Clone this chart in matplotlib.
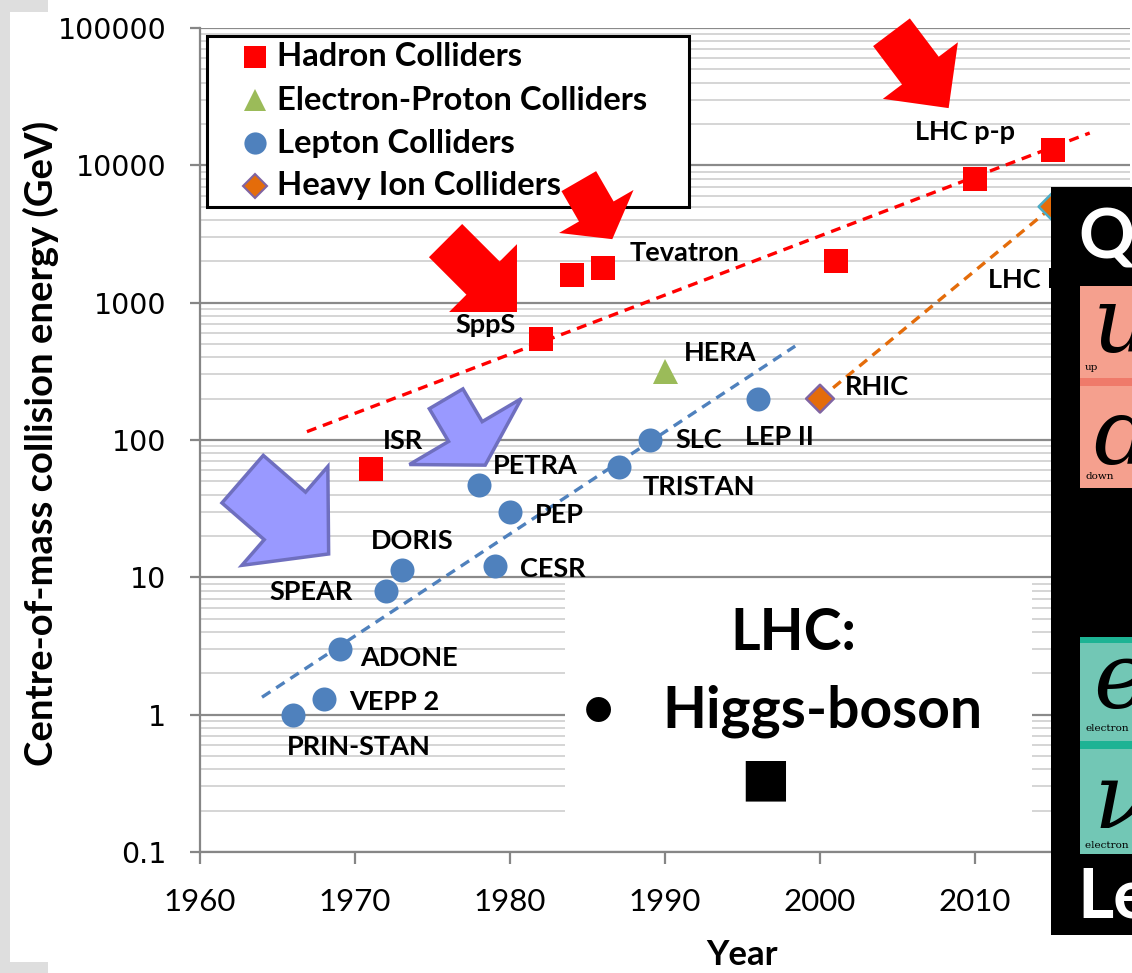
import numpy as np
import matplotlib
matplotlib.use("Agg")
import matplotlib.pyplot as plt
from matplotlib import transforms
from matplotlib.patches import Rectangle, Polygon
from matplotlib.lines import Line2D
from matplotlib.ticker import FixedLocator, LogLocator, NullFormatter, FuncFormatter

plt.rcParams['font.family'] = ['Lato', 'DejaVu Sans']

W, H = 1132, 973

# ---- data ----
hadron_year = [1971, 1982, 1984, 1986, 2001, 2010, 2015]
hadron_energy = [62, 540, 1600, 1800, 2000, 8000, 13000]

ep_year = [1990]
ep_energy = [320]

lepton_year = [1966, 1968, 1969, 1972, 1973, 1978, 1979, 1980, 1987, 1989, 1996]
lepton_energy = [1.0, 1.3, 3.0, 8.0, 11.3, 47, 12, 30, 64, 100, 200]

ion_year = [2000, 2015]
ion_energy = [200, 5000]

# dashed trend lines
hadron_trend_year = [1966.9, 2017.4]
hadron_trend_energy = [115, 17200]
lepton_trend_year = [1964.0, 1998.4]
lepton_trend_energy = [1.34, 483]
ion_trend_year = [2000, 2015]
ion_trend_energy = [200, 5000]

# labels: (name, year, energy)
labels = [
    ("ISR", 1971, 62), ("SppS", 1982, 540), ("Tevatron", 1986, 1800),
    ("LHC p-p", 2010, 8000), ("HERA", 1990, 320), ("RHIC", 2000, 200),
    ("LHC lead-lead", 2015, 5000),
    ("PRIN-STAN", 1966, 1.0), ("VEPP 2", 1968, 1.3), ("ADONE", 1969, 3.0),
    ("SPEAR", 1972, 8.0), ("DORIS", 1973, 11.3), ("PETRA", 1978, 47),
    ("CESR", 1979, 12), ("PEP", 1980, 30), ("TRISTAN", 1987, 64),
    ("SLC", 1989, 100), ("LEP II", 1996, 200),
]
# label offsets in pixels (right, down)
label_offset = {
    "ISR": (12, -28), "SppS": (-86, -14), "Tevatron": (27, -15),
    "LHC p-p": (-60, -47), "HERA": (19, -18), "RHIC": (25, -12),
    "LHC lead-lead": (-65, 73),
    "PRIN-STAN": (-6, 32), "VEPP 2": (25, 3), "ADONE": (21, 9),
    "SPEAR": (-117, 1), "DORIS": (-31, -29), "PETRA": (14, -19),
    "CESR": (25, 3), "PEP": (25, 3), "TRISTAN": (24, 20),
    "SLC": (26, 0), "LEP II": (-13, 38),
}

year_ticks = [1960, 1970, 1980, 1990, 2000, 2010, 2020]
energy_ticks = [0.1, 1, 10, 100, 1000, 10000, 100000]

RED = '#ff0000'
BLUE = '#4f81bd'
GREEN = '#9bbb59'
ORANGE = '#e46c0a'
PURPLE = '#8064a2'

fig = plt.figure(figsize=(W / 100, H / 100), dpi=100)
ax = fig.add_axes([200 / W, 1 - 852 / H, 930 / W, 824 / H])
pix = transforms.Affine2D().scale(1.0 / W, -1.0 / H).translate(0, 1) + fig.transFigure

ax.set_yscale('log')
ax.set_xlim(1960, 2020)
ax.set_ylim(0.1, 100000)

# grid
ax.yaxis.set_major_locator(FixedLocator(energy_ticks))
ax.yaxis.set_minor_locator(LogLocator(base=10, subs=np.arange(2, 10)))
ax.yaxis.set_minor_formatter(NullFormatter())
ax.yaxis.set_major_formatter(FuncFormatter(lambda v, p: ('%g' % v) if v < 1 else '%d' % v))
ax.xaxis.set_major_locator(FixedLocator(year_ticks))
ax.grid(which='major', axis='y', color='#8a8a8a', lw=1.6)
ax.grid(which='minor', axis='y', color='#d2d2d2', lw=1.3)
ax.set_axisbelow(True)
for s in ['top', 'right']:
    ax.spines[s].set_visible(False)
for s in ['left', 'bottom']:
    ax.spines[s].set_color('#868686')
    ax.spines[s].set_linewidth(1.6)
ax.tick_params(axis='x', which='major', direction='out', length=8.6, width=1.6,
               color='#868686', pad=17, labelsize=22.5)
ax.tick_params(axis='y', which='major', direction='out', length=7.2, width=1.6,
               color='#868686', pad=17)
ax.tick_params(axis='y', which='minor', length=0)
for t in ax.get_yticklabels():
    t.set_family('DejaVu Sans')
    t.set_fontsize(20.5)

ax.set_ylabel("Centre-of-mass collision energy (GeV)", fontsize=27.5, fontweight='bold')
ax.yaxis.set_label_coords(-0.152, 0.496)
ax.set_xlabel("Year", fontsize=25, fontweight='bold')
ax.xaxis.set_label_coords(0.583, -0.106)

# trend lines
ax.plot(hadron_trend_year, hadron_trend_energy, color=RED, lw=2.4, ls=(0, (3, 2.1)), zorder=3)
ax.plot(lepton_trend_year, lepton_trend_energy, color=BLUE, lw=2.4, ls=(0, (3, 2.1)), zorder=3)
ax.plot(ion_trend_year, ion_trend_energy, color=ORANGE, lw=2.4, ls=(0, (3, 2.1)), zorder=3)

# points
ax.plot(hadron_year, hadron_energy, 's', color=RED, ms=17.3, mew=0, zorder=4)
ax.plot(ep_year, ep_energy, '^', color=GREEN, ms=18, mew=0, zorder=4)
ax.plot(lepton_year, lepton_energy, 'o', color=BLUE, ms=17.3, mew=0, zorder=4)
ax.scatter(ion_year, ion_energy, marker='D', s=200, c=ORANGE,
           edgecolors=[PURPLE, '#4bacc6'], linewidths=1.8, zorder=4)

for name, yr, en in labels:
    dx, dy = label_offset[name]
    ax.annotate(name, (yr, en), xytext=(dx, -dy), textcoords='offset pixels',
                ha='left', va='center', fontsize=19.5, fontweight='bold', zorder=4)

# legend (drawn by hand)
ax.add_patch(Rectangle((207, 36), 482, 171, transform=pix, facecolor='white',
                       edgecolor='black', lw=2.2, zorder=5, clip_on=False))
legend_items = [
    ("Hadron Colliders", 's', RED, RED, 16),
    ("Electron-Proton Colliders", '^', GREEN, GREEN, 16.5),
    ("Lepton Colliders", 'o', BLUE, BLUE, 16),
    ("Heavy Ion Colliders", 'D', ORANGE, PURPLE, 12.5),
]
for i, (txt, mk, fc, ec, ms) in enumerate(legend_items):
    yy = 57 + 43 * i
    ax.add_line(Line2D([255], [yy], marker=mk, ms=ms, mfc=fc, mec=ec,
                       mew=1.5 if mk == 'D' else 0, transform=pix, zorder=5.5, clip_on=False))
    ax.text(277, yy, txt, transform=pix, ha='left', va='center', fontsize=23.6,
            fontweight='bold', zorder=5.5)


# block arrows
def block_arrow(year, energy, angle, tail_len, tail_w, head_len, head_w, fc, ec=None):
    a = np.deg2rad(angle)
    d = np.array([np.cos(a), -np.sin(a)])   # toward tip (display, y up)
    n = np.array([np.sin(a), np.cos(a)])
    base = -head_len * d
    end = -(head_len + tail_len) * d
    pts = [np.zeros(2), base + head_w / 2 * n, base + tail_w / 2 * n,
           end + tail_w / 2 * n, end - tail_w / 2 * n, base - tail_w / 2 * n,
           base - head_w / 2 * n]
    tr = transforms.Affine2D().scale(fig.dpi / 100.0) + \
        transforms.ScaledTranslation(year, energy, ax.transData)
    ax.add_patch(Polygon(pts, closed=True, transform=tr, facecolor=fc,
                         edgecolor=ec if ec else fc, lw=2.5 if ec else 0,
                         zorder=6, clip_on=False))


block_arrow(1980.45, 855, 45, 53, 47, 48, 96, RED)
block_arrow(1986.6, 2900, 60, 35, 40, 32, 86, RED)
block_arrow(2008.3, 26100, 53, 48, 46, 47, 94, RED)
block_arrow(1968.3, 14.8, 41, 56, 63, 58, 131, '#9999ff', '#6f6fbf')
block_arrow(1978.4, 65.6, 59.5, 38, 39, 39, 130, '#9999ff', '#6f6fbf')

# LHC text box
fig.add_artist(Rectangle((565, 583), 467, 265, transform=pix, facecolor='white',
                         edgecolor='none', zorder=4))
fig.text(793, 650, "LHC:", transform=pix, ha='center', va='baseline',
         fontsize=41, fontweight='bold', zorder=5)
fig.text(598, 727, "\u2022", transform=pix, ha='center', va='baseline',
         fontsize=41, fontweight='bold', zorder=5)
fig.text(662, 727, "Higgs-boson", transform=pix, ha='left', va='baseline',
         fontsize=41, fontweight='bold', zorder=5)
fig.text(765, 779, "\u25a0", transform=pix, ha='center', va='center',
         fontsize=38, family='DejaVu Sans', zorder=5)

# cropped particle chart on the right
fig.add_artist(Rectangle((1051, 187), 90, 748, transform=pix, facecolor='black',
                         edgecolor='none', zorder=10))
boxes = [
    (286, 378, '#f5a08e'), (378, 386, '#ef7a6a'), (386, 488, '#f5a08e'),
    (637, 643, '#1db394'), (643, 741, '#72c7b5'), (741, 749, '#1db394'),
    (749, 854, '#72c7b5'),
]
for y0, y1, c in boxes:
    fig.add_artist(Rectangle((1080, y0), 70, y1 - y0, transform=pix, facecolor=c,
                             edgecolor='none', zorder=10.5))
fig.text(1078, 258, "Qu", transform=pix, color='white', fontsize=50,
         fontweight='bold', va='baseline', zorder=11)
fig.text(1077, 917, "Le", transform=pix, color='white', fontsize=50,
         fontweight='bold', va='baseline', zorder=11)
for ch, yb in [("u", 352), ("d", 464), ("e", 708), ("\u03bd", 828)]:
    fig.text(1093, yb, ch, transform=pix, color='black', fontsize=66,
             family='DejaVu Serif', style='italic', va='baseline', zorder=11)
for s, yb in [("up", 370), ("down", 479), ("electron", 731), ("electron neutrino", 848)]:
    fig.text(1085, yb, s, transform=pix, color='black', fontsize=7.5,
             family='DejaVu Serif', va='baseline', zorder=11)

# grey slide border on the left
for x0, y0, w, h in [(0, 0, 10, 973), (0, 0, 48, 12), (0, 962, 48, 11)]:
    fig.add_artist(Rectangle((x0, y0), w, h, transform=pix, facecolor='#dedede',
                             edgecolor='none', zorder=10))

fig.savefig("out.png", dpi=100)
